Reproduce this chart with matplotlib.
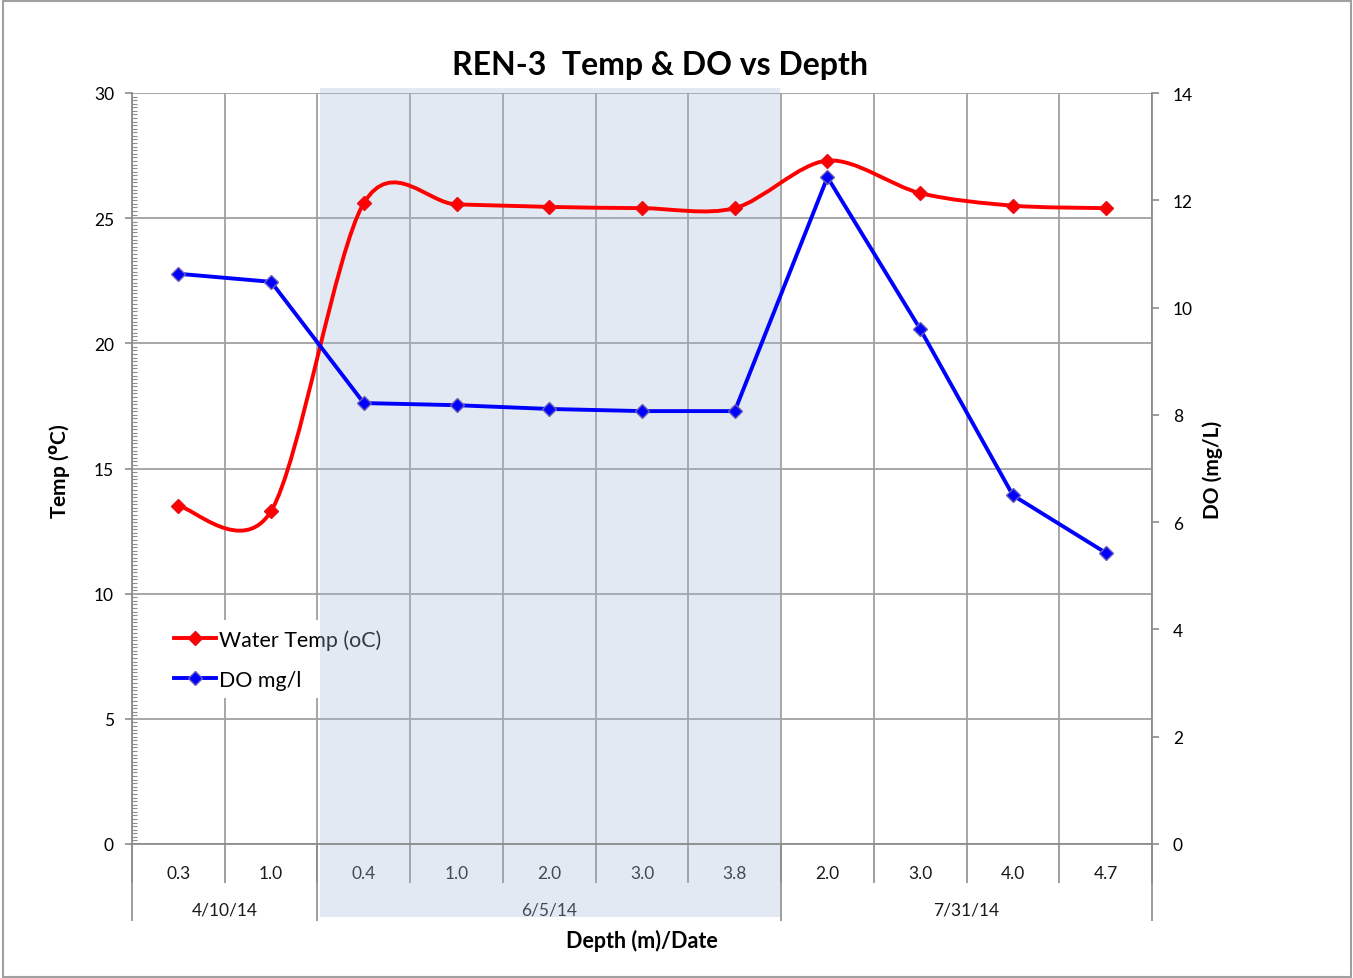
import numpy as np
import matplotlib
matplotlib.use("Agg")
import matplotlib.pyplot as plt
from matplotlib.path import Path
from matplotlib.patches import PathPatch, Rectangle
from matplotlib.lines import Line2D
from matplotlib.ticker import MultipleLocator

plt.rcParams['font.family'] = ['Lato', 'DejaVu Sans']
plt.rcParams['mathtext.default'] = 'regular'

# ─── Data ───────────────────────────────────────────────────────────────────────
depths = ['0.3', '1.0', '0.4', '1.0', '2.0', '3.0', '3.8', '2.0', '3.0', '4.0', '4.7']
dates = ['4/10/14', '6/5/14', '7/31/14']
group_sizes = [2, 5, 4]
water_temp = [13.5, 13.3, 25.6, 25.55, 25.45, 25.4, 25.4, 27.3, 26.0, 25.5, 25.4]
do_mgl = [10.63, 10.48, 8.22, 8.18, 8.11, 8.07, 8.07, 12.43, 9.6, 6.5, 5.43]

GRID = '#a0a0a0'
SPINE = '#8c8c8c'
TICK_FS = 12.5


def smooth_path(xs, ys, k=1 / 6.5):
    """Excel-like smoothed line: cubic Bezier segments through the points."""
    pts = np.column_stack([xs, ys]).astype(float)
    n = len(pts)
    verts = [pts[0]]
    codes = [Path.MOVETO]
    for i in range(n - 1):
        p0 = pts[i - 1] if i > 0 else pts[i]
        p1, p2 = pts[i], pts[i + 1]
        p3 = pts[i + 2] if i + 2 < n else pts[i + 1]
        verts += [p1 + (p2 - p0) * k, p2 - (p3 - p1) * k, p2]
        codes += [Path.CURVE4] * 3
    return Path(verts, codes)


fig = plt.figure(figsize=(13.53, 9.79), dpi=100)
ax = fig.add_axes([132 / 1353, 134 / 979, 1020 / 1353, 751 / 979])
ax.set_facecolor('none')
ax.set_axisbelow(True)
x = np.arange(len(depths))

# ─── Left axis (Temp) ───────────────────────────────────────────────────────────
ax.set_xlim(-0.5, len(depths) - 0.5)
ax.set_ylim(0, 30)
ax.yaxis.set_major_locator(MultipleLocator(5))
ax.yaxis.set_minor_locator(MultipleLocator(1 / 7))
ax.tick_params(axis='y', which='major', direction='out', length=5, width=1.2,
               color=SPINE, labelsize=TICK_FS, pad=8)
ax.tick_params(axis='y', which='minor', direction='in', length=3.5, width=0.8,
               color=SPINE)
ax.grid(axis='y', which='major', color=GRID, lw=1.3)

ax.set_xticks(x, labels=depths)
ax.set_xticks(np.arange(-0.5, len(depths)), minor=True)
ax.tick_params(axis='x', which='major', length=0, labelsize=TICK_FS, pad=15,
               labelcolor='#1a1a1a')
ax.tick_params(axis='x', which='minor', direction='out', length=28, width=1.2,
               color=SPINE)
ax.grid(axis='x', which='minor', color=GRID, lw=1.3)

for s in ['left', 'bottom', 'right']:
    ax.spines[s].set_color(SPINE)
    ax.spines[s].set_linewidth(1.3)
ax.spines['top'].set_visible(False)

# group separators and date labels under the depth labels
bounds = np.concatenate([[0], np.cumsum(group_sizes)]) - 0.5
ax.vlines(bounds, -0.102, 0, transform=ax.get_xaxis_transform(),
          colors=SPINE, lw=1.2, clip_on=False, zorder=0.6)
for d, a, b in zip(dates, bounds[:-1], bounds[1:]):
    ax.text((a + b) / 2, -0.0866, d, transform=ax.get_xaxis_transform(),
            ha='center', va='center', fontsize=TICK_FS, color='#1a1a1a', zorder=0.6)

# shaded 6/5/14 block
ax.add_patch(Rectangle((bounds[1] + 0.03, -0.0972), bounds[2] - bounds[1] - 0.04, 1.104,
                       transform=ax.get_xaxis_transform(), facecolor='#a2b9d7',
                       alpha=0.3, edgecolor='none', clip_on=False, zorder=1))

# Temp smoothed line
ax.add_patch(PathPatch(smooth_path(x, water_temp), facecolor='none', edgecolor='#ff0000',
                       lw=2.8, zorder=3, capstyle='round', joinstyle='round'))
ax.plot(x, water_temp, 'D', color='#ff0000', ms=7, mec='#e8101c', zorder=4)

# ─── Right axis (DO) ────────────────────────────────────────────────────────────
ax2 = ax.twinx()
ax2.set_ylim(0, 14)
ax2.yaxis.set_major_locator(MultipleLocator(2))
ax2.tick_params(axis='y', direction='out', length=5, width=1.2, color=SPINE,
                labelsize=TICK_FS, pad=10)
for s in ax2.spines.values():
    s.set_visible(False)
ax2.plot(x, do_mgl, '-', color='#0000ff', lw=2.8, zorder=3)
ax2.plot(x, do_mgl, 'D', color='#0000ff', ms=7, mec='#6b5fb5', mew=1, zorder=4)

# ─── Legend ─────────────────────────────────────────────────────────────────────
handles = [Line2D([], [], color='#ff0000', lw=2.8, marker='D', ms=7, mec='#e8101c'),
           Line2D([], [], color='#0000ff', lw=2.8, marker='D', ms=7, mec='#6b5fb5')]
leg = ax.legend(handles, ['Water Temp (oC)', 'DO mg/l'], loc='upper left',
                bbox_to_anchor=(0.022, 0.312), fontsize=15.4, frameon=True,
                facecolor='white', edgecolor='none', framealpha=1, fancybox=False,
                handlelength=2.0, handletextpad=0.12, labelspacing=0.95,
                borderpad=0.4)
leg.set_zorder(0.8)

# ─── Text ───────────────────────────────────────────────────────────────────────
fig.text(0.488, 1 - 65 / 979, 'REN-3  Temp & DO vs Depth', ha='center', va='center',
         fontsize=23, fontweight='bold')
fig.text(60 / 1353, 1 - 471 / 979, r'Temp ($^{\mathbf{o}}$C)', rotation=90,
         ha='center', va='center', fontsize=15, fontweight='bold')
fig.text(1213 / 1353, 1 - 470 / 979, 'DO (mg/L)', rotation=90,
         ha='center', va='center', fontsize=15, fontweight='bold')
fig.text(642 / 1353, 1 - 941 / 979, 'Depth (m)/Date', ha='center', va='center',
         fontsize=15.5, fontweight='bold')

# outer chart border
fig.add_artist(Rectangle((2.5 / 1353, 1.5 / 979), 1348 / 1353, 976 / 979,
                         transform=fig.transFigure, facecolor='none',
                         edgecolor='#a0a0a0', lw=1.5))

fig.savefig('out.png', dpi=100)
